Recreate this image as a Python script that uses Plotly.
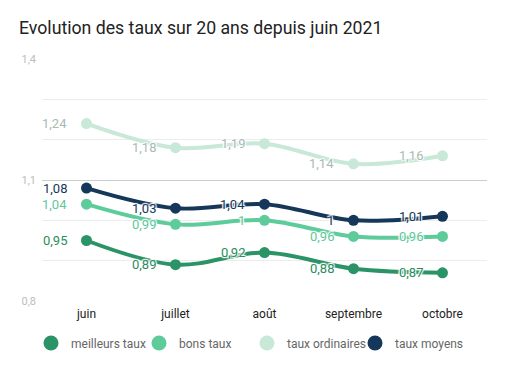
import plotly.graph_objects as go

months = ["juin", "juillet", "août", "septembre", "octobre"]
meilleurs = [0.95, 0.89, 0.92, 0.88, 0.87]
bons = [1.04, 0.99, 1.00, 0.96, 0.96]
ordinaires = [1.24, 1.18, 1.19, 1.14, 1.16]
moyens = [1.08, 1.03, 1.04, 1.00, 1.01]

series = [
    ("meilleurs taux", meilleurs, "#2b9466", "#2b8c60"),
    ("bons taux", bons, "#5ecb9b", "#5ec89a"),
    ("taux ordinaires", ordinaires, "#c8e8d8", "#a9bab2"),
    ("taux moyens", moyens, "#15375a", "#15375a"),
]

def fmt(v):
    s = ("%.2f" % v).rstrip("0").rstrip(".")
    return s.replace(".", ",")

# the page body has an 8px margin: figure is sized/placed to compensate
W, H = 497, 360

fig = go.Figure()
annotations = []
for name, vals, col, tcol in series:
    fig.add_trace(go.Scatter(
        x=months, y=vals, mode="lines+markers", name=name,
        line=dict(color=col, width=4, shape="spline", smoothing=1),
        marker=dict(color=col, size=11),
        showlegend=False, hoverinfo="skip",
    ))
    for m, v in zip(months, vals):
        annotations.append(dict(
            x=m, y=v, xref="x", yref="y", text=fmt(v), showarrow=False,
            xanchor="right", yanchor="middle", xshift=-18,
            font=dict(family="Roboto", size=13, color=tcol,
                      shadow="1px 1px 1px white, -1px -1px 1px white, 1px -1px 1px white, -1px 1px 1px white"),
        ))

for name, vals, col, tcol in series:
    fig.add_trace(go.Scatter(
        x=[None], y=[None], mode="markers", name=name,
        marker=dict(color=col, size=15), showlegend=True,
    ))

fig.update_layout(
    width=W, height=H,
    margin=dict(l=34, r=18, t=51, b=67, autoexpand=False),
    paper_bgcolor="white", plot_bgcolor="white",
    separators=", ",
    font=dict(family="Roboto", color="#222"),
    title=dict(text="Evolution des taux sur 20 ans depuis juin 2021",
               x=11 / W, xref="container", xanchor="left",
               y=1 - 20 / H, yref="container", yanchor="middle",
               pad=dict(l=0, r=0, t=0, b=0),
               font=dict(family="Roboto", size=17.7, color="#222")),
    xaxis=dict(type="category", range=[-0.5, 4.5], showgrid=False,
               showline=False, zeroline=False, ticks="",
               ticklabelstandoff=4,
               tickfont=dict(family="Roboto", size=12, color="#222")),
    yaxis=dict(range=[0.8, 1.4], tickvals=[0.8, 1.1, 1.4],
               ticktext=["0,8", "1,1", "1,4"],
               tickfont=dict(family="Roboto", size=11, color="#bdbdbd"),
               ticklabelstandoff=5,
               gridcolor="#cccccc", gridwidth=1, zeroline=False,
               showline=False, ticks="",
               minor=dict(tickvals=[0.9, 1.0, 1.2, 1.3], showgrid=True,
                          gridcolor="#ececec", gridwidth=1)),
    legend=dict(orientation="h", x=23 / W, xanchor="left", xref="container",
                y=25 / H, yref="container", yanchor="middle",
                font=dict(family="Roboto", size=12, color="#666"), itemwidth=30,
                entrywidth=63, entrywidthmode="pixels",
                traceorder="normal"),
    annotations=annotations,
)

fig.write_html("out.html")
